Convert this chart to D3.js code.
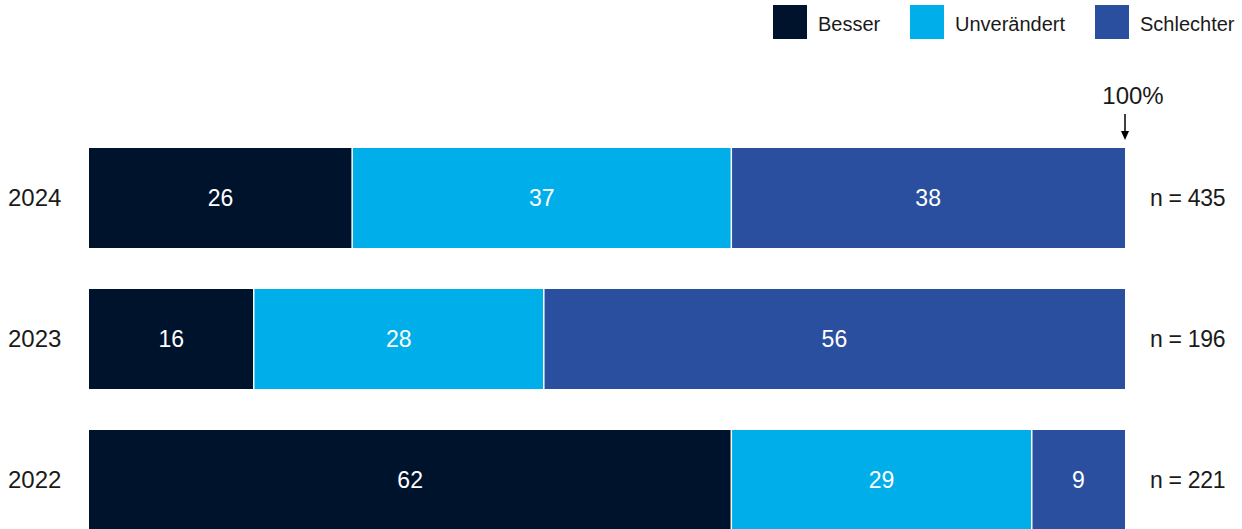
<!DOCTYPE html>
<html>
<head>
<meta charset="utf-8">
<script src="https://cdnjs.cloudflare.com/ajax/libs/d3/7.8.5/d3.min.js"></script>
<style>
  body { margin: 0; background: #fff; }
  svg { display: block; font-family: "Liberation Sans", Arial, sans-serif; }
</style>
</head>
<body>
<div class="container"></div>
<script>
var w = 1242;
var h = 529;

// data
var years = ["2024", "2023", "2022"];
var categories = ["Besser", "Unverändert", "Schlechter"];
var colors = ["#00132d", "#00aeea", "#294f9e"];
// shares as drawn (widths), labels as printed
var besser = [25.4, 15.9, 62.0];
var unveraendert = [36.6, 28.0, 29.0];
var schlechter = [38.0, 56.1, 9.0];
var besserLabel = [26, 16, 62];
var unveraendertLabel = [37, 28, 29];
var schlechterLabel = [38, 56, 9];
var nLabels = ["n = 435", "n = 196", "n = 221"];

var shares = [besser, unveraendert, schlechter];
var labels = [besserLabel, unveraendertLabel, schlechterLabel];

var svg = d3.select(".container")
    .append("svg")
    .attr("width", w)
    .attr("height", h);

var x = d3.scaleLinear()
    .domain([0, 100])
    .range([89, 1125]);

var y = d3.scaleBand()
    .domain(years)
    .range([148, 530])
    .paddingInner(41 / 141)
    .paddingOuter(0);

// build stacked rows
var rows = years.map(function(yr, i) {
    var start = 0;
    return categories.map(function(c, j) {
        var seg = { year: yr, cat: j, x0: start, x1: start + shares[j][i], label: labels[j][i] };
        start = seg.x1;
        return seg;
    });
});
var segs = [].concat.apply([], rows);

svg.selectAll(".seg")
    .data(segs)
    .enter()
    .append("rect")
    .attr("class", "seg")
    .attr("x", function(d) { return x(d.x0); })
    .attr("y", function(d) { return y(d.year); })
    .attr("width", function(d) { return x(d.x1) - x(d.x0); })
    .attr("height", y.bandwidth())
    .attr("fill", function(d) { return colors[d.cat]; });

// white separators between segments
svg.selectAll(".sep")
    .data(segs.filter(function(d) { return d.x0 > 0; }))
    .enter()
    .append("line")
    .attr("class", "sep")
    .attr("x1", function(d) { return x(d.x0); })
    .attr("x2", function(d) { return x(d.x0); })
    .attr("y1", function(d) { return y(d.year); })
    .attr("y2", function(d) { return y(d.year) + y.bandwidth(); })
    .attr("stroke", "#fff")
    .attr("stroke-width", 1.5);

svg.selectAll(".seglabel")
    .data(segs)
    .enter()
    .append("text")
    .attr("class", "seglabel")
    .attr("x", function(d) { return (x(d.x0) + x(d.x1)) / 2; })
    .attr("y", function(d) { return y(d.year) + y.bandwidth() / 2; })
    .attr("dy", "0.35em")
    .attr("text-anchor", "middle")
    .attr("fill", "#fff")
    .attr("font-size", "23px")
    .text(function(d) { return d.label; });

// year labels
svg.selectAll(".year")
    .data(years)
    .enter()
    .append("text")
    .attr("class", "year")
    .attr("x", 8)
    .attr("y", function(d) { return y(d) + y.bandwidth() / 2; })
    .attr("dy", "0.35em")
    .attr("fill", "#1a1a1a")
    .attr("font-size", "24px")
    .text(function(d) { return d; });

// n labels
svg.selectAll(".nlab")
    .data(years)
    .enter()
    .append("text")
    .attr("class", "nlab")
    .attr("x", 1150)
    .attr("y", function(d) { return y(d) + y.bandwidth() / 2; })
    .attr("dy", "0.35em")
    .attr("fill", "#1a1a1a")
    .attr("font-size", "23px")
    .attr("letter-spacing", "-0.3px")
    .text(function(d, i) { return nLabels[i]; });

// 100% marker
svg.append("text")
    .attr("x", x(100) + 8)
    .attr("y", 104)
    .attr("text-anchor", "middle")
    .attr("fill", "#1a1a1a")
    .attr("font-size", "24px")
    .text("100%");

svg.append("line")
    .attr("x1", x(100))
    .attr("x2", x(100))
    .attr("y1", 114)
    .attr("y2", 132)
    .attr("stroke", "#000")
    .attr("stroke-width", 1.5);

svg.append("path")
    .attr("d", "M" + (x(100) - 4) + ",131 L" + (x(100) + 4) + ",131 L" + x(100) + ",140 Z")
    .attr("fill", "#000");

// legend
var legendX = [773, 910, 1095];
var legend = svg.selectAll(".legend")
    .data(categories)
    .enter()
    .append("g")
    .attr("class", "legend")
    .attr("transform", function(d, i) { return "translate(" + legendX[i] + ",5)"; });

legend.append("rect")
    .attr("width", 34)
    .attr("height", 34)
    .attr("fill", function(d, i) { return colors[i]; });

legend.append("text")
    .attr("x", 45)
    .attr("y", 19)
    .attr("dy", "0.35em")
    .attr("fill", "#1a1a1a")
    .attr("font-size", "20px")
    .text(function(d) { return d; });
</script>
</body>
</html>
